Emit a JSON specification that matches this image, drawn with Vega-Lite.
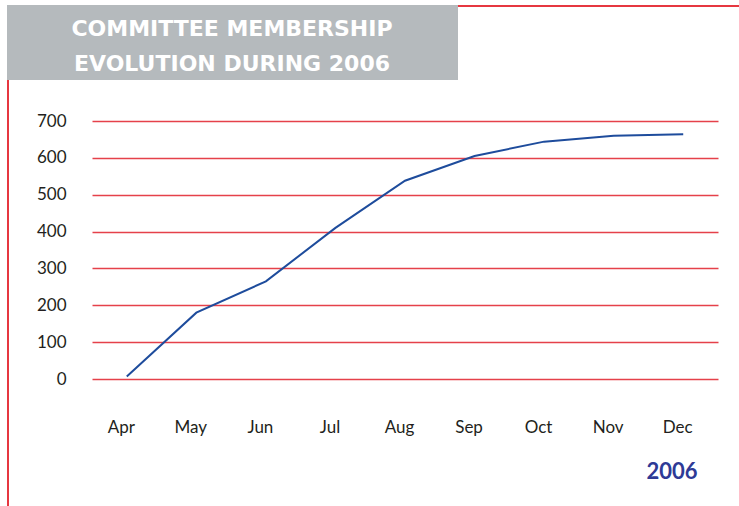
{
  "$schema": "https://vega.github.io/schema/vega-lite/v6.json",
  "width": 626,
  "height": 258,
  "autosize": {"type": "none"},
  "padding": {"left": 92, "top": 121, "right": 21, "bottom": 127},
  "background": "white",
  "config": {
    "view": {"stroke": null},
    "font": "Lato"
  },
  "datasets": {
    "members": [
      {"month": "Apr", "members": 7},
      {"month": "May", "members": 180},
      {"month": "Jun", "members": 265},
      {"month": "Jul", "members": 410},
      {"month": "Aug", "members": 538},
      {"month": "Sep", "members": 605},
      {"month": "Oct", "members": 644},
      {"month": "Nov", "members": 660},
      {"month": "Dec", "members": 664}
    ],
    "heading": [{"line1": "COMMITTEE MEMBERSHIP", "line2": "EVOLUTION DURING 2006"}]
  },
  "layer": [
    {
      "data": {"name": "heading"},
      "mark": {"type": "rect", "fill": null, "stroke": "#e63740", "strokeWidth": 2, "clip": false},
      "encoding": {
        "x": {"value": -84},
        "x2": {"value": 700},
        "y": {"value": -115},
        "y2": {"value": 420}
      }
    },
    {
      "data": {"name": "heading"},
      "mark": {"type": "rect", "fill": "#b5babd", "stroke": null, "clip": false},
      "encoding": {
        "x": {"value": -85},
        "x2": {"value": 366},
        "y": {"value": -116},
        "y2": {"value": -41}
      }
    },
    {
      "data": {"name": "heading"},
      "mark": {"type": "text", "font": "DejaVu Sans", "fontSize": 22, "fontWeight": "bold", "color": "#ffffff", "align": "center", "baseline": "alphabetic", "clip": false},
      "encoding": {
        "text": {"field": "line1"},
        "x": {"value": 140},
        "y": {"value": -85}
      }
    },
    {
      "data": {"name": "heading"},
      "mark": {"type": "text", "font": "DejaVu Sans", "fontSize": 22, "fontWeight": "bold", "color": "#ffffff", "align": "center", "baseline": "alphabetic", "clip": false},
      "encoding": {
        "text": {"field": "line2"},
        "x": {"value": 140},
        "y": {"value": -50}
      }
    },
    {
      "data": {"name": "members"},
      "mark": {"type": "line", "color": "#1e4c9c", "strokeWidth": 2},
      "encoding": {
        "x": {
          "field": "month",
          "type": "ordinal",
          "sort": ["Apr", "May", "Jun", "Jul", "Aug", "Sep", "Oct", "Nov", "Dec"],
          "scale": {"type": "point", "padding": 0.5},
          "axis": {
            "title": "2006",
            "titleColor": "#2e3a96",
            "titleFontSize": 22,
            "titleFontWeight": "bold",
            "titleAnchor": "end",
            "titleAlign": "right",
            "titleBaseline": "alphabetic",
            "titleX": 605,
            "titleY": 99,
            "labelAngle": 0,
            "labelFontSize": 17,
            "labelColor": "#231f20",
            "labelPadding": 40,
            "labelOffset": -6,
            "domain": false,
            "ticks": false,
            "tickSize": 0,
            "grid": false
          }
        },
        "y": {
          "field": "members",
          "type": "quantitative",
          "scale": {"domain": [0, 700], "nice": false},
          "axis": {
            "title": null,
            "values": [0, 100, 200, 300, 400, 500, 600, 700],
            "labelFontSize": 17,
            "labelColor": "#231f20",
            "labelPadding": 26,
            "domain": false,
            "ticks": false,
            "tickSize": 0,
            "grid": true,
            "gridColor": "#e5414a",
            "gridWidth": 1.3,
            "gridOpacity": 1
          }
        }
      }
    }
  ]
}
